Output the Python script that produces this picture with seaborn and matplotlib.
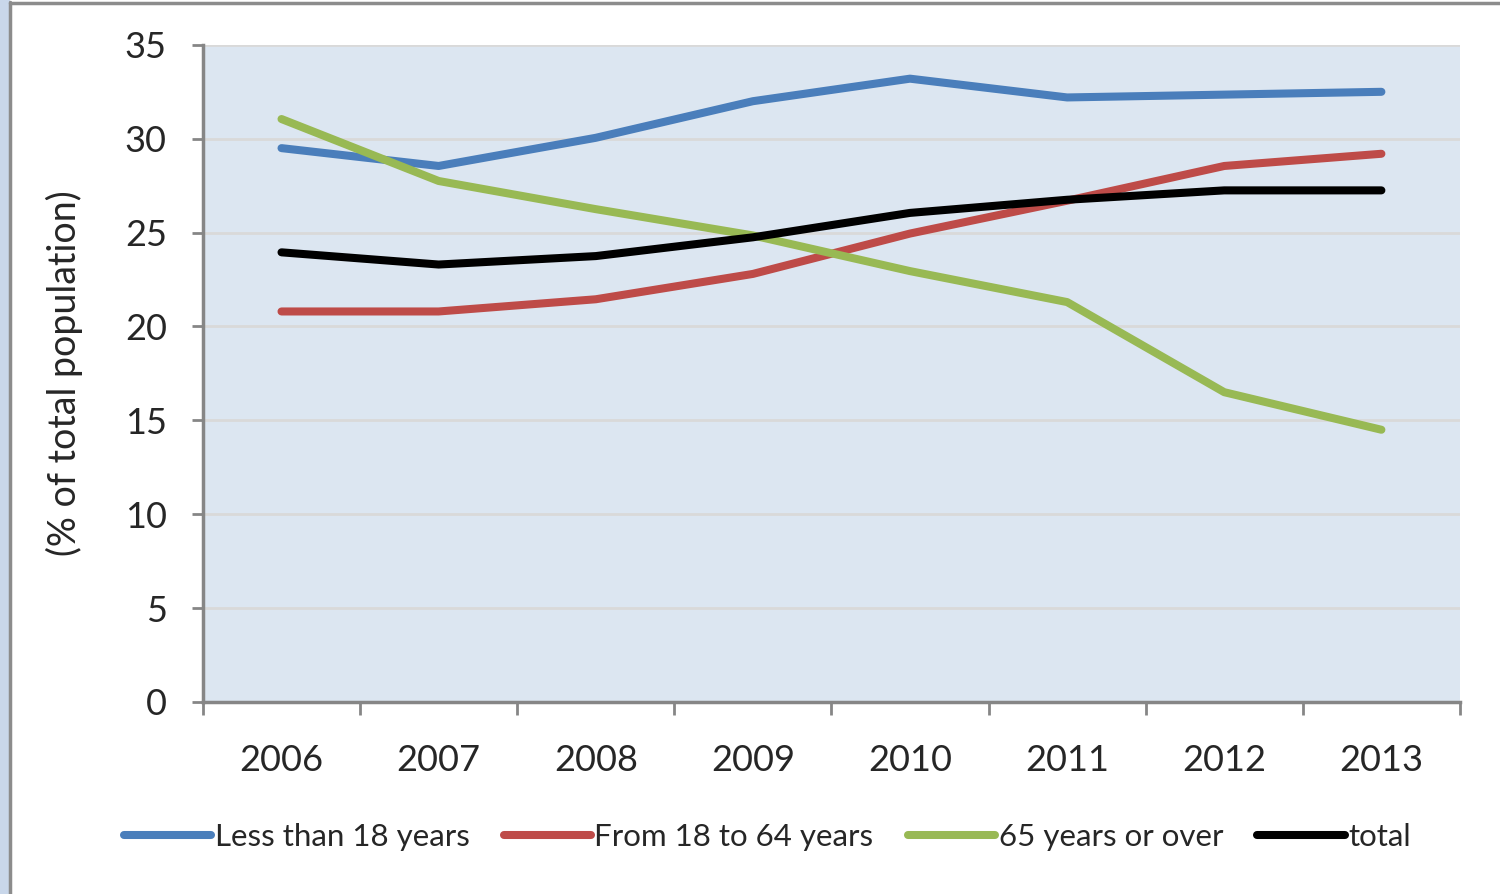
import matplotlib.pyplot as plt
import matplotlib.patches as mpatches
import pandas as pd
import seaborn as sns

# data
YEARS = ["2006", "2007", "2008", "2009", "2010", "2011", "2012", "2013"]
under_18 = [29.5, 28.55, 30.05, 32.0, 33.2, 32.2, 32.35, 32.5]
from_18_to_64 = [20.8, 20.8, 21.45, 22.8, 24.95, 26.7, 28.55, 29.2]
over_65 = [31.05, 27.75, 26.25, 24.85, 22.95, 21.3, 16.5, 14.5]
total = [23.95, 23.3, 23.75, 24.75, 26.05, 26.75, 27.25, 27.25]

SERIES = {
    "Less than 18 years": under_18,
    "From 18 to 64 years": from_18_to_64,
    "65 years or over": over_65,
    "total": total,
}
PALETTE = {
    "Less than 18 years": "#4A7EBB",
    "From 18 to 64 years": "#BE4B48",
    "65 years or over": "#98B954",
    "total": "#000000",
}

rows = []
for name, vals in SERIES.items():
    for i, v in enumerate(vals):
        rows.append({"x": i, "value": v, "series": name})
df = pd.DataFrame(rows)

sns.set_style("white")
plt.rcParams["font.family"] = ["Lato", "DejaVu Sans"]

fig = plt.figure(figsize=(15, 8.94), dpi=100, facecolor="white")
ax = fig.add_axes([0.1353, 0.2148, 0.838, 0.735])
ax.set_facecolor("#DCE6F1")

sns.lineplot(
    data=df,
    x="x",
    y="value",
    hue="series",
    hue_order=list(SERIES),
    palette=PALETTE,
    linewidth=5.8,
    solid_capstyle="round",
    sort=False,
    ax=ax,
)

ax.set_xlim(-0.5, len(YEARS) - 0.5)
ax.set_ylim(0, 35)
ax.set_yticks(range(0, 36, 5))
ax.tick_params(axis="y", left=True, labelsize=26, length=8, width=2,
               color="#868686", direction="out", pad=18)
ax.set_xticks([i - 0.5 for i in range(len(YEARS) + 1)])
ax.set_xticklabels([])
ax.set_xticks(range(len(YEARS)), minor=True)
ax.set_xticklabels(YEARS, minor=True)
ax.tick_params(axis="x", which="major", bottom=True, length=9, width=2,
               color="#868686", direction="out")
ax.tick_params(axis="x", which="minor", bottom=True, length=0, labelsize=26, pad=30)

ax.grid(axis="y", color="#D9D9D9", linewidth=2)
ax.set_axisbelow(True)
for side in ["top", "right"]:
    ax.spines[side].set_visible(False)
for side in ["left", "bottom"]:
    ax.spines[side].set_color("#868686")
    ax.spines[side].set_linewidth(2.5)

ax.set_xlabel("")
ax.set_ylabel("(% of total population)", fontsize=27, labelpad=30)

handles, labels = ax.get_legend_handles_labels()
ax.legend(
    handles,
    labels,
    loc="center",
    bbox_to_anchor=(0.449, -0.205),
    ncol=4,
    frameon=False,
    fontsize=22.5,
    handlelength=2.8,
    handletextpad=0.1,
    columnspacing=1.1,
)

# outer chart frame with the blue strip on the left
fig.patches.append(
    mpatches.Rectangle((0, 0), 0.0065, 1, transform=fig.transFigure,
                       facecolor="#C9D7EA", edgecolor="none", zorder=0)
)
fig.lines.append(
    plt.Line2D([0.0068, 0.0068], [0, 0.998], transform=fig.transFigure,
               color="#8C8C8C", linewidth=2.5)
)
fig.lines.append(
    plt.Line2D([0.0068, 1], [0.997, 0.997], transform=fig.transFigure,
               color="#8C8C8C", linewidth=2.5)
)

plt.savefig("out.png", dpi=100, facecolor=fig.get_facecolor())
